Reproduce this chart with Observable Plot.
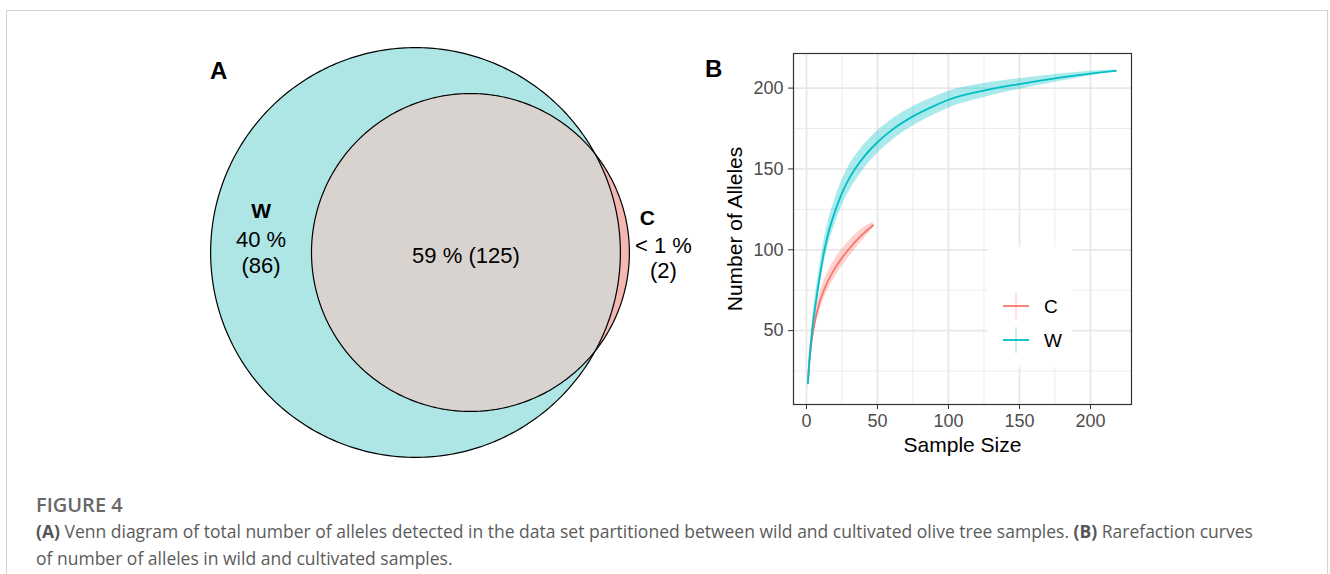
<!DOCTYPE html>
<html>
<head>
<meta charset="utf-8">
<script src="https://cdn.jsdelivr.net/npm/d3@7"></script>
<script src="https://cdn.jsdelivr.net/npm/@observablehq/plot@0.6"></script>
<style>
  html, body { margin: 0; padding: 0; background: #fff; }
  #page { position: relative; width: 1330px; height: 574px; overflow: hidden; font-family: "Liberation Sans", Arial, sans-serif; }
  #border { position: absolute; left: 6px; top: 10px; width: 1322px; height: 640px; border: 1px solid #d2d2d2; box-sizing: border-box; }
  #venn { position: absolute; left: 190px; top: 30px; }
  #rare { position: absolute; left: 690px; top: 30px; }
  #rare g[aria-label$="tick label"] { font-size: 18px; }
  .tag { position: absolute; font-weight: bold; font-size: 24px; line-height: 1; color: #000; }
  #legend { position: absolute; left: 988px; top: 247px; width: 84px; height: 120px; background: #fff; }
  .cap { position: absolute; left: 36px; white-space: nowrap; font-family: "Open Sans", sans-serif; }
  #figno { top: 493px; font-size: 20px; line-height: 24px; font-weight: 600; color: #686868; }
  .line { font-size: 17.5px; line-height: 27.4px; color: #5b5b5b; }
  .line b { font-weight: 700; color: #555; }
</style>
</head>
<body>
<div id="page">
  <div id="border"></div>
  <div id="venn"></div>
  <div id="rare"></div>
  <div class="tag" style="left:210px;top:59px;">A</div>
  <div class="tag" style="left:705px;top:57px;">B</div>
  <div id="legend"></div>
  <div class="cap" id="figno">FIGURE 4</div>
  <div class="cap line" style="top:518px;"><b>(A)</b> Venn diagram of total number of alleles detected in the data set partitioned between wild and cultivated olive tree samples. <b>(B)</b> Rarefaction curves</div>
  <div class="cap line" style="top:545px;">of number of alleles in wild and cultivated samples.</div>
</div>
<script>
// ---- Panel A: alleles private to / shared by wild (W) and cultivated (C) samples
const vennSets = ["W", "C"];
const vennOnly = [86, 2];          // alleles found only in W, only in C
const vennShared = 125;            // alleles found in both
const vennOnlyPct = ["40 %", "< 1 %"];
const vennSharedPct = "59 %";

// ---- Panel B: rarefaction curves (expected number of alleles vs sample size)
const groups = ["C", "W"];
const groupColors = ["#F8766D", "#00BFC4"];

const sizeW    = [1, 2, 3, 4, 5, 6, 7, 8, 10, 12, 15, 20, 25, 30, 35, 40, 50, 60, 75, 90, 100, 125, 150, 175, 200, 218];
const allelesW = [17.5, 31, 41, 50, 57.5, 64, 70, 76, 87, 97, 109, 123.5, 135, 144, 151, 157, 166.5, 174, 182.5, 189, 192.8, 198.5, 202.5, 206, 209, 210.7];
const lowerW   = [14, 26.5, 36, 44.5, 51.5, 57.7, 63.5, 69.3, 80, 89.8, 101.5, 115.7, 127, 136, 143.2, 149.5, 159.5, 167.4, 176.5, 183.5, 187.6, 194.2, 199.2, 203.6, 207.6, 210.2];
const upperW   = [21, 35.5, 46, 55.5, 63.5, 70.3, 76.5, 82.7, 94, 104.2, 116.5, 131.3, 143, 152, 158.8, 164.5, 173.5, 180.6, 188.5, 194.5, 198, 202.8, 205.8, 208.4, 210.4, 211.2];

const sizeC    = [1, 2, 3, 4, 5, 6, 7, 8, 10, 12, 15, 20, 25, 30, 35, 40, 47];
const allelesC = [17.5, 30, 39, 46, 51.5, 56, 60, 63.5, 69.5, 74.5, 80.5, 88.5, 95, 100.5, 105.5, 110, 115.2];
const lowerC   = [14, 26, 34.7, 41.5, 46.7, 51, 55, 58.3, 64.1, 69, 74.9, 82.9, 89.6, 95.5, 101.1, 106.4, 113.4];
const upperC   = [21, 34, 43.3, 50.5, 56.3, 61, 65, 68.7, 74.9, 80, 86.1, 94.1, 100.4, 105.5, 109.9, 113.6, 117];

const xMajor = [0, 50, 100, 150, 200];
const xMinor = [25, 75, 125, 175];
const yMajor = [50, 100, 150, 200];
const yMinor = [25, 75, 125, 175];

// ================= Venn diagram =================
const totalW = vennOnly[0] + vennShared;
const totalC = vennOnly[1] + vennShared;
// area-proportional circles
const R = Math.sqrt(totalW / Math.PI);
const r = Math.sqrt(totalC / Math.PI);
const clamp = v => Math.max(-1, Math.min(1, v));
function overlapArea(d) {
  const a = r * r * Math.acos(clamp((d * d + r * r - R * R) / (2 * d * r)));
  const b = R * R * Math.acos(clamp((d * d + R * R - r * r) / (2 * d * R)));
  const c = 0.5 * Math.sqrt(Math.max(0, (-d + r + R) * (d + r - R) * (d - r + R) * (d + r + R)));
  return a + b - c;
}
// centre distance giving the shared area
let lo = R - r + 1e-9, hi = R + r;
for (let i = 0; i < 80; i++) {
  const mid = (lo + hi) / 2;
  if (overlapArea(mid) > vennShared) lo = mid; else hi = mid;
}
const dist = (lo + hi) / 2;

const arc = (cx, rad, a0, a1, n = 240) =>
  d3.range(n + 1).map(i => {
    const a = a0 + (a1 - a0) * i / n;
    return {x: cx + rad * Math.cos(a), y: rad * Math.sin(a)};
  });
const circleW = arc(0, R, 0, 2 * Math.PI, 360);
const circleC = arc(dist, r, 0, 2 * Math.PI, 360);
// lens (shared region)
const xi = (dist * dist + R * R - r * r) / (2 * dist);
const yi = Math.sqrt(Math.max(0, R * R - xi * xi));
const phiW = Math.atan2(yi, xi);
const phiC = Math.atan2(yi, xi - dist);
const lens = [...arc(0, R, -phiW, phiW), ...arc(dist, r, phiC, 2 * Math.PI - phiC)];

const wOnlyX = (-R + (dist - r)) / 2;
const sharedX = ((dist - r) + R) / 2;
const cOuterX = dist + r;

const vennFont = "Liberation Sans, Arial, sans-serif";
const venn = Plot.plot({
  width: 520, height: 440, margin: 0,
  x: {domain: [-9, 11.8], axis: null},
  y: {domain: [-8.72, 8.88], axis: null},
  style: {fontFamily: vennFont, background: "transparent", color: "#000"},
  marks: [
    Plot.line(circleW, {x: "x", y: "y", fill: "#aee6e6", stroke: "none", curve: "linear-closed"}),
    Plot.line(circleC, {x: "x", y: "y", fill: "#f5b7b2", stroke: "none", curve: "linear-closed"}),
    Plot.line(lens, {x: "x", y: "y", fill: "#d9d3cf", stroke: "none", curve: "linear-closed"}),
    Plot.line(circleW, {x: "x", y: "y", stroke: "#000", strokeWidth: 1.2, fill: "none", curve: "linear-closed"}),
    Plot.line(circleC, {x: "x", y: "y", stroke: "#000", strokeWidth: 1.2, fill: "none", curve: "linear-closed"}),
    // W-only region
    Plot.text([vennSets[0]], {x: () => wOnlyX, y: () => 0, text: d => d, dy: -41, fontSize: 21, fontWeight: "bold", fill: "#000"}),
    Plot.text([`${vennOnlyPct[0]}\n(${vennOnly[0]})`], {x: () => wOnlyX, y: () => 0, text: d => d, dy: -1, lineHeight: 1.2, fontSize: 22, fill: "#000"}),
    // shared region
    Plot.text([`${vennSharedPct} (${vennShared})`], {x: () => sharedX, y: () => 0, text: d => d, dy: 3, fontSize: 22, fill: "#000"}),
    // C-only sliver, labelled outside
    Plot.text([vennSets[1]], {x: () => cOuterX, y: () => 0, text: d => d, dx: 18, dy: -34, fontSize: 21, fontWeight: "bold", fill: "#000"}),
    Plot.text([`${vennOnlyPct[1]}\n(${vennOnly[1]})`], {x: () => cOuterX, y: () => 0, text: d => d, dx: 34, dy: 5, lineHeight: 1.15, fontSize: 22, fill: "#000"})
  ]
});
document.getElementById("venn").appendChild(venn);

// ================= Rarefaction curves =================
const rows = [
  ...sizeC.map((s, i) => ({group: "C", size: s, n: allelesC[i], lo: lowerC[i], hi: upperC[i]})),
  ...sizeW.map((s, i) => ({group: "W", size: s, n: allelesW[i], lo: lowerW[i], hi: upperW[i]}))
];

const rare = Plot.plot({
  width: 460, height: 440,
  marginLeft: 103, marginRight: 19, marginTop: 23, marginBottom: 66,
  x: {domain: [-9.15, 228.9]},
  y: {domain: [4.3, 221.4]},
  color: {domain: groups, range: groupColors},
  style: {fontFamily: vennFont, fontSize: "18px", background: "transparent"},
  marks: [
    Plot.ruleY(yMinor, {stroke: "#ededed", strokeWidth: 1}),
    Plot.ruleX(xMinor, {stroke: "#ededed", strokeWidth: 1}),
    Plot.ruleY(yMajor, {stroke: "#e8e8e8", strokeWidth: 1.8}),
    Plot.ruleX(xMajor, {stroke: "#e8e8e8", strokeWidth: 1.8}),
    Plot.areaY(rows, {x: "size", y1: "lo", y2: "hi", z: "group", fill: "group", fillOpacity: 0.33, curve: "monotone-x"}),
    Plot.line(rows, {x: "size", y: "n", z: "group", stroke: "group", strokeWidth: 1.8, curve: "monotone-x"}),
    Plot.frame({stroke: "#333", strokeWidth: 1.2}),
    Plot.axisX({ticks: xMajor, tickSize: 5, tickPadding: 5, label: null, stroke: "#333", fill: "#4d4d4d", fontSize: 18}),
    Plot.axisY({ticks: yMajor, tickSize: 5, tickPadding: 5, label: null, stroke: "#333", fill: "#4d4d4d", fontSize: 18}),
    Plot.text(["Sample Size"], {frameAnchor: "bottom", text: d => d, textAnchor: "middle", lineAnchor: "middle", dy: 41, fontSize: 21, fill: "#000"}),
    Plot.text(["Number of Alleles"], {frameAnchor: "left", text: d => d, textAnchor: "middle", lineAnchor: "middle", dx: -58, rotate: -90, fontSize: 21, fill: "#000"})
  ]
});
document.getElementById("rare").appendChild(rare);

// ---- legend inside the panel
const leg = d3.select("#legend").append("svg").attr("width", 84).attr("height", 120)
  .style("font-family", vennFont);
groups.forEach((g, i) => {
  const y = 59 + i * 34;
  const row = leg.append("g");
  row.append("line").attr("x1", 28).attr("x2", 28).attr("y1", y - 13).attr("y2", y + 13)
    .attr("stroke", groupColors[i]).attr("stroke-opacity", 0.3).attr("stroke-width", 1.5);
  row.append("line").attr("x1", 15).attr("x2", 41).attr("y1", y).attr("y2", y)
    .attr("stroke", groupColors[i]).attr("stroke-width", 1.8);
  row.append("text").attr("x", 56).attr("y", y + 7).attr("font-size", 19).attr("fill", "#000").text(g);
});
</script>
</body>
</html>
